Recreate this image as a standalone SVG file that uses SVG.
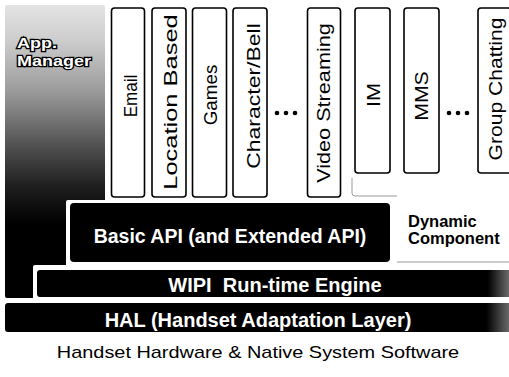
<svg xmlns="http://www.w3.org/2000/svg" width="509" height="377" viewBox="0 0 509 377">
<style>
.app rect{fill:#fff;stroke:#000;stroke-width:1.6}
.vt{font-family:"Liberation Sans",Arial,sans-serif;font-size:19px;fill:#000;text-anchor:middle}
.wb{font-family:"Liberation Sans",Arial,sans-serif;font-weight:bold;fill:#fff;text-anchor:middle}
.am{font-family:"Liberation Sans",Arial,sans-serif;font-weight:bold;fill:#fff;font-size:15px;stroke:#000;stroke-width:2.5;paint-order:stroke}
.bb{font-family:"Liberation Sans",Arial,sans-serif;font-weight:bold;fill:#000}
.dot{fill:#000}
</style>
<defs>
<linearGradient id="amg" x1="0" y1="0" x2="0" y2="1">
<stop offset="0" stop-color="#e4e4e4"/>
<stop offset="0.12" stop-color="#cdcdcd"/>
<stop offset="0.3" stop-color="#999"/>
<stop offset="0.47" stop-color="#555"/>
<stop offset="0.62" stop-color="#1e1e1e"/>
<stop offset="0.75" stop-color="#000"/>
<stop offset="1" stop-color="#000"/>
</linearGradient>
<linearGradient id="barg" x1="0" y1="0" x2="1" y2="0">
<stop offset="0" stop-color="#000"/>
<stop offset="0.955" stop-color="#000"/>
<stop offset="1" stop-color="#6a6a6a"/>
</linearGradient>
</defs>
<rect width="509" height="377" fill="#fff"/>

<g id="app-manager">
<path d="M5,7 Q5,5 7,5 L103,5 Q105,5 105,7 L105,200 L68,200 Q66,200 66,202 L66,265 L35,265 Q33,265 33,267 L33,298 L7,298 Q5,298 5,296 Z" fill="url(#amg)"/>
<text class="am" transform="translate(17,48) scale(1.2,1)">App.</text>
<text class="am" transform="translate(17,66) scale(1.2,1)">Manager</text>
</g>

<g id="dynamic-outline" fill="none" stroke="#999" stroke-width="1">
<path d="M352,178 L352,193 Q352,196 355,196 L397,196"/>
<path d="M397,262 L509,262"/>
</g>

<g id="email" class="app"><rect x="111.5" y="8" width="33" height="189" rx="3"/><text class="vt" transform="translate(137,96) rotate(-90) scale(0.9,1)">Email</text></g>
<g id="location-based" class="app"><rect x="152" y="8" width="34" height="189" rx="3"/><text class="vt" transform="translate(177,102) rotate(-90) scale(1.34,1)">Location Based</text></g>
<g id="games" class="app"><rect x="192.5" y="8" width="34" height="189" rx="3"/><text class="vt" transform="translate(217,95) rotate(-90) scale(0.99,1)">Games</text></g>
<g id="character-bell" class="app"><rect x="233" y="8" width="34" height="189" rx="3"/><text class="vt" transform="translate(260,96) rotate(-90) scale(1.21,1)">Character/Bell</text></g>
<g id="dots1"><circle class="dot" cx="277" cy="113" r="2.3"/><circle class="dot" cx="286" cy="113" r="2.3"/><circle class="dot" cx="295" cy="113" r="2.3"/></g>
<g id="video-streaming" class="app"><rect x="307.5" y="8" width="33" height="189" rx="3"/><text class="vt" transform="translate(330,103) rotate(-90) scale(1.14,1)">Video Streaming</text></g>
<g id="im" class="app"><rect x="355" y="8" width="35" height="165" rx="3"/><text class="vt" transform="translate(380,95) rotate(-90) scale(1.14,1)">IM</text></g>
<g id="mms" class="app"><rect x="404" y="8" width="35" height="165" rx="3"/><text class="vt" transform="translate(428,96) rotate(-90) scale(1.12,1)">MMS</text></g>
<g id="dots2"><circle class="dot" cx="449" cy="113" r="2.3"/><circle class="dot" cx="458" cy="113" r="2.3"/><circle class="dot" cx="467" cy="113" r="2.3"/></g>
<g id="group-chatting" class="app"><rect x="478" y="8" width="33" height="165" rx="3"/><text class="vt" transform="translate(502,89) rotate(-90) scale(1.11,1)">Group Chatting</text></g>

<g id="basic-api">
<rect x="70" y="203" width="320" height="59" rx="4" fill="#000"/>
<text class="wb" x="230" y="243" font-size="19.5">Basic API (and Extended API)</text>
</g>
<g id="dynamic-component">
<text class="bb" x="408" y="226.5" font-size="16.5">Dynamic</text>
<text class="bb" x="408" y="244" font-size="16.5">Component</text>
</g>
<g id="wipi">
<path d="M40,270 L509,270 L509,297 L40,297 Q37,297 37,294 L37,273 Q37,270 40,270 Z" fill="url(#barg)"/>
<text class="wb" x="275" y="291.5" font-size="20" xml:space="preserve">WIPI  Run-time Engine</text>
</g>
<g id="hal">
<path d="M8,303 L509,303 L509,332 L8,332 Q5,332 5,329 L5,306 Q5,303 8,303 Z" fill="url(#barg)"/>
<text class="wb" x="258" y="326.5" font-size="20">HAL (Handset Adaptation Layer)</text>
</g>
<g id="native">
<text font-family="Liberation Sans, Arial, sans-serif" font-size="17" text-anchor="middle" transform="translate(258,358) scale(1.17,1)">Handset Hardware &amp; Native System Software</text>
</g>
</svg>
